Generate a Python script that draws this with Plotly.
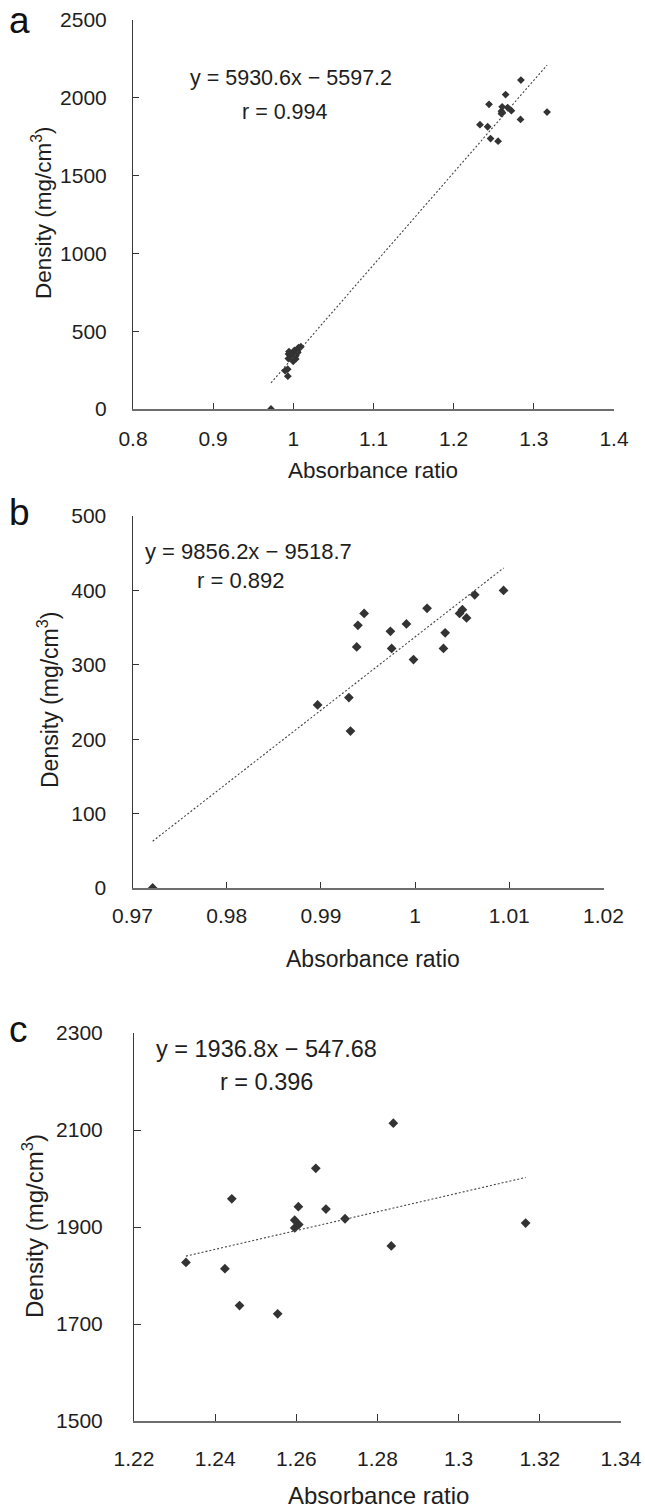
import plotly.graph_objects as go

W, H = 645, 1511

# ---------------- data ----------------
low_ratio = [0.97214, 0.98965, 0.99297, 0.99314, 0.99380, 0.99393, 0.99459,
             0.99738, 0.99751, 0.99908, 0.99983, 1.00127, 1.00301, 1.00319,
             1.00472, 1.00502, 1.00546, 1.00633, 1.00939]
low_density = [0, 246, 256, 211, 324, 353, 369, 345, 322, 355, 307, 376,
               322, 343, 369, 374, 363, 394, 400]

high_ratio = [1.2328, 1.2424, 1.2441, 1.2460, 1.2554, 1.2596, 1.2596, 1.2606,
              1.2605, 1.2648, 1.2673, 1.2720, 1.2834, 1.2839, 1.3165]
high_density = [1827, 1814, 1958, 1738, 1721, 1914, 1898, 1905, 1942, 2021,
                1937, 1917, 1861, 2114, 1908]

panel_labels = ["a", "b", "c"]
slopes = [5930.6, 9856.2, 1936.8]
intercepts = [-5597.2, -9518.7, -547.68]
r_values = [0.994, 0.892, 0.396]

a_xticks = [0.8, 0.9, 1.0, 1.1, 1.2, 1.3, 1.4]
a_xlabels = ["0.8", "0.9", "1", "1.1", "1.2", "1.3", "1.4"]
a_yticks = [0, 500, 1000, 1500, 2000, 2500]
a_ylabels = ["0", "500", "1000", "1500", "2000", "2500"]

b_xticks = [0.97, 0.98, 0.99, 1.0, 1.01, 1.02]
b_xlabels = ["0.97", "0.98", "0.99", "1", "1.01", "1.02"]
b_yticks = [0, 100, 200, 300, 400, 500]
b_ylabels = ["0", "100", "200", "300", "400", "500"]

c_xticks = [1.22, 1.24, 1.26, 1.28, 1.30, 1.32, 1.34]
c_xlabels = ["1.22", "1.24", "1.26", "1.28", "1.3", "1.32", "1.34"]
c_yticks = [1500, 1700, 1900, 2100, 2300]
c_ylabels = ["1500", "1700", "1900", "2100", "2300"]

x_title = "Absorbance ratio"
y_title = "Density (mg/cm<sup>3</sup>)"

# ---------------- layout helpers ----------------
FONT = "Liberation Sans, Arial, Helvetica, sans-serif"
TXT = "#1e1e1e"
MARK = "#333333"


def px_x(x):
    return x / W


def px_y(y):
    return 1 - y / H


panels = [
    dict(x_vals=low_ratio + high_ratio, y_vals=low_density + high_density,
         box=(133, 614, 20, 409), xr=[0.8, 1.4], yr=[0, 2500],
         xt=a_xticks, xl=a_xlabels, yt=a_yticks, yl=a_ylabels,
         msize=6, ticklen=6, xstand=10, ystand=21,
         eq=(291, 78), rr=(285, 112), afont=21.5,
         xtitle=(373, 470), ytitle=(42, 213), tfont=22.5, lab=(19, 20)),
    dict(x_vals=low_ratio, y_vals=low_density,
         box=(132.5, 603.5, 516, 888), xr=[0.97, 1.02], yr=[0, 500],
         xt=b_xticks, xl=b_xlabels, yt=b_yticks, yl=b_ylabels,
         msize=7.5, ticklen=6, xstand=8, ystand=21,
         eq=(248, 552), rr=(240, 580), afont=22,
         xtitle=(373, 959), ytitle=(48, 700), tfont=23, lab=(19, 512)),
    dict(x_vals=high_ratio, y_vals=high_density,
         box=(134, 621, 1033, 1421), xr=[1.22, 1.34], yr=[1500, 2300],
         xt=c_xticks, xl=c_xlabels, yt=c_yticks, yl=c_ylabels,
         msize=7.5, ticklen=7, xstand=18, ystand=26,
         eq=(266, 1049), rr=(266, 1082), afont=23.5,
         xtitle=(378, 1495), ytitle=(33, 1226), tfont=24, lab=(18, 1029)),
]

fig = go.Figure()
annotations = []
layout_axes = {}

for i, p in enumerate(panels):
    n = "" if i == 0 else str(i + 1)
    xa, ya = "x" + n, "y" + n
    # scatter points
    fig.add_trace(go.Scatter(
        x=p["x_vals"], y=p["y_vals"], mode="markers",
        marker=dict(symbol="diamond", size=p["msize"], color=MARK,
                    line=dict(width=0)),
        xaxis=xa, yaxis=ya, showlegend=False, hoverinfo="x+y"))
    # trend line from equation over data range
    x0, x1 = min(p["x_vals"]), max(p["x_vals"])
    fig.add_trace(go.Scatter(
        x=[x0, x1], y=[slopes[i] * x0 + intercepts[i], slopes[i] * x1 + intercepts[i]],
        mode="lines", line=dict(color="#444444", width=1.1, dash="2px,2px"),
        xaxis=xa, yaxis=ya, showlegend=False, hoverinfo="skip"))

    L, R, T, B = p["box"]
    layout_axes["xaxis" + n] = dict(
        domain=[px_x(L), px_x(R)], range=p["xr"], anchor=ya,
        tickmode="array", tickvals=p["xt"], ticktext=p["xl"],
        ticks="inside", ticklen=p["ticklen"], tickwidth=1, tickcolor="#333333",
        showline=True, linecolor="#6e6e6e", linewidth=1.6,
        showgrid=False, zeroline=False, ticklabelstandoff=p["xstand"],
        automargin=False,
        tickfont=dict(family=FONT, size=21, color=TXT), fixedrange=True)
    layout_axes["yaxis" + n] = dict(
        domain=[px_y(B), px_y(T)], range=p["yr"], anchor=xa,
        tickmode="array", tickvals=p["yt"], ticktext=p["yl"],
        ticks="inside", ticklen=p["ticklen"], tickwidth=1, tickcolor="#333333",
        showline=True, linecolor="#3a3a3a", linewidth=1,
        showgrid=False, zeroline=False, ticklabelstandoff=p["ystand"],
        automargin=False,
        tickfont=dict(family=FONT, size=21, color=TXT), fixedrange=True)

    eq_text = f"y = {slopes[i]}x \u2212 {abs(intercepts[i])}"
    r_text = f"r = {r_values[i]:.3f}"
    for txt, (ax_, ay_) in ((eq_text, p["eq"]), (r_text, p["rr"])):
        annotations.append(dict(
            text=txt, x=px_x(ax_), y=px_y(ay_), xref="paper", yref="paper",
            xanchor="center", yanchor="middle", showarrow=False,
            font=dict(family=FONT, size=p["afont"], color=TXT)))
    annotations.append(dict(
        text=x_title, x=px_x(p["xtitle"][0]), y=px_y(p["xtitle"][1]),
        xref="paper", yref="paper", xanchor="center", yanchor="middle",
        showarrow=False, font=dict(family=FONT, size=p["tfont"], color=TXT)))
    annotations.append(dict(
        text=y_title, x=px_x(p["ytitle"][0]), y=px_y(p["ytitle"][1]),
        xref="paper", yref="paper", xanchor="center", yanchor="middle",
        textangle=-90, showarrow=False,
        font=dict(family=FONT, size=p["tfont"], color=TXT)))
    annotations.append(dict(
        text=panel_labels[i], x=px_x(p["lab"][0]), y=px_y(p["lab"][1]),
        xref="paper", yref="paper", xanchor="center", yanchor="middle",
        showarrow=False, font=dict(family=FONT, size=37, color="#111111")))

fig.update_layout(
    width=W, height=H,
    margin=dict(l=0, r=0, t=0, b=0, pad=0, autoexpand=False),
    paper_bgcolor="white", plot_bgcolor="white",
    annotations=annotations, showlegend=False, **layout_axes)

fig.write_html(
    "out.html", config={"displayModeBar": False},
    post_script=("document.documentElement.style.margin='0';"
                 "document.body.style.margin='0';"
                 "document.body.style.padding='0';"
                 "document.body.style.overflow='hidden';"))
